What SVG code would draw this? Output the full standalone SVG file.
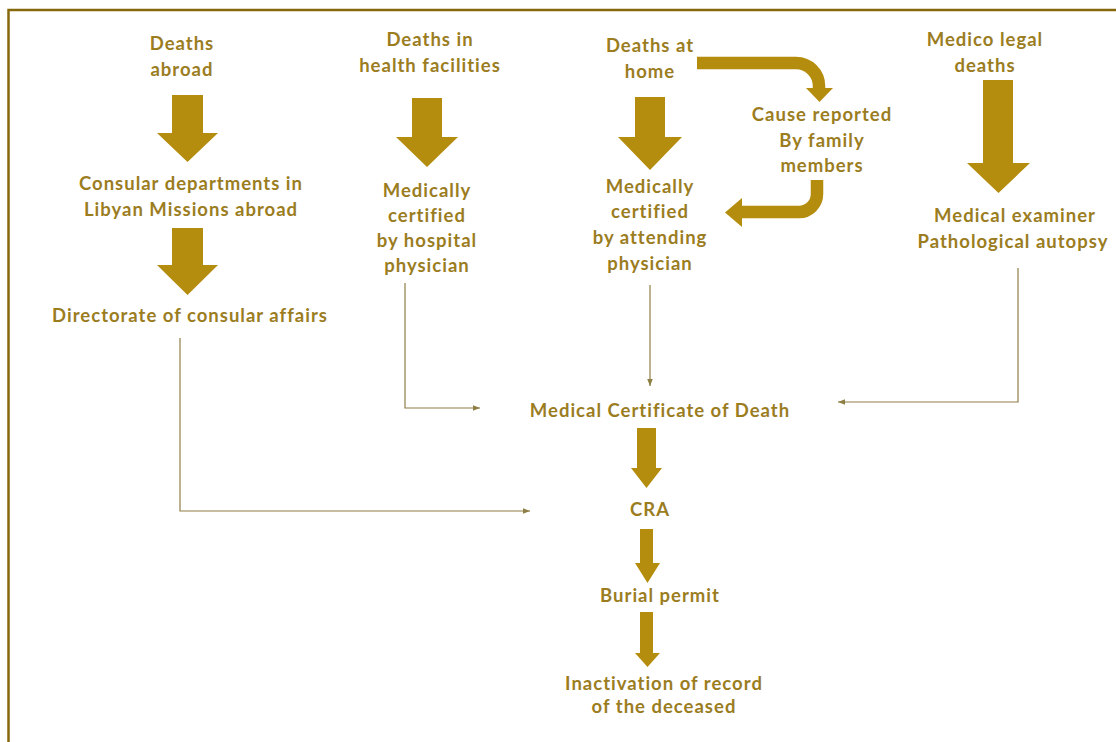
<svg xmlns="http://www.w3.org/2000/svg" width="1116" height="742" viewBox="0 0 1116 742">
<defs>
<style>
.t{font-family:Lato,"Liberation Sans",sans-serif;font-weight:700;font-size:18.5px;letter-spacing:1px;fill:#9B7D1F;text-anchor:middle}
.blk{fill:#B58D0E}
.band{fill:none;stroke:#B58D0E;stroke-width:12.5}
.thin{fill:none;stroke:#8F7F45;stroke-width:1.2}
</style>
<marker id="ah" viewBox="0 0 10 10" refX="10" refY="5" markerWidth="7" markerHeight="7" markerUnits="userSpaceOnUse" orient="auto">
<path d="M0,1 L10,5 L0,9 z" fill="#8F7F45"/>
</marker>
</defs>
<rect x="0" y="0" width="1116" height="742" fill="#ffffff"/>
<rect x="8.5" y="10" width="1130" height="800" fill="none" stroke="#86680C" stroke-width="2.5"/>

<g id="connectors">
<polygon class="blk" points="172,95 203,95 203,133 218,133 187.5,162 157,133 172,133"/>
<polygon class="blk" points="172,228 203,228 203,265 218,265 187.5,295 157,265 172,265"/>
<polygon class="blk" points="412,98 442,98 442,137 458,137 427,167 396,137 412,137"/>
<polygon class="blk" points="635,97 665,97 665,137 682,137 650,170 618,137 635,137"/>
<polygon class="blk" points="983,80 1013,80 1013,163 1030,163 998.5,193 967,163 983,163"/>
<polygon class="blk" points="637,428 656,428 656,468 662,468 646.5,488 631,468 637,468"/>
<polygon class="blk" points="640,529 653,529 653,563 660,563 647.5,583 635,563 640,563"/>
<polygon class="blk" points="640,612 653,612 653,653 660,653 647.5,667 635,653 640,653"/>
<path class="band" d="M697,63 H796 A23,23 0 0 1 819,86 V89"/>
<polygon class="blk" points="806,88 833,88 819.5,102"/>
<path class="band" d="M817,180 V194 A18,18 0 0 1 799,212 H741"/>
<polygon class="blk" points="742,198 742,227 725,212.5"/>
<path class="thin" d="M180,338 V511 H530" marker-end="url(#ah)"/>
<path class="thin" d="M405,283 V408 H480" marker-end="url(#ah)"/>
<path class="thin" d="M650,285 V386" marker-end="url(#ah)"/>
<path class="thin" d="M1018,268 V402 H838" marker-end="url(#ah)"/>
</g>

<g id="deaths-abroad"><text class="t" x="182" y="50">Deaths</text><text class="t" x="182" y="76">abroad</text></g>
<g id="consular-departments"><text class="t" x="191" y="190">Consular departments in</text><text class="t" x="191" y="216">Libyan Missions abroad</text></g>
<g id="directorate"><text class="t" x="190" y="322">Directorate of consular affairs</text></g>
<g id="deaths-health"><text class="t" x="430" y="46">Deaths in</text><text class="t" x="430" y="72">health facilities</text></g>
<g id="cert-hospital"><text class="t" x="427" y="197">Medically</text><text class="t" x="427" y="222">certified</text><text class="t" x="427" y="247">by hospital</text><text class="t" x="427" y="272">physician</text></g>
<g id="deaths-home"><text class="t" x="650" y="52">Deaths at</text><text class="t" x="650" y="78">home</text></g>
<g id="cert-attending"><text class="t" x="650" y="193">Medically</text><text class="t" x="650" y="218">certified</text><text class="t" x="650" y="244">by attending</text><text class="t" x="650" y="270">physician</text></g>
<g id="cause-reported"><text class="t" x="822" y="121">Cause reported</text><text class="t" x="822" y="147">By family</text><text class="t" x="822" y="172">members</text></g>
<g id="medico-legal"><text class="t" x="985" y="46">Medico legal</text><text class="t" x="985" y="72">deaths</text></g>
<g id="medical-examiner"><text class="t" x="1015" y="222">Medical examiner</text><text class="t" x="1013" y="248">Pathological autopsy</text></g>
<g id="mcd"><text class="t" x="660" y="417">Medical Certificate of Death</text></g>
<g id="cra"><text class="t" x="650" y="516">CRA</text></g>
<g id="burial"><text class="t" x="660" y="602">Burial permit</text></g>
<g id="inactivation"><text class="t" x="664" y="690">Inactivation of record</text><text class="t" x="664" y="713">of the deceased</text></g>
</svg>
